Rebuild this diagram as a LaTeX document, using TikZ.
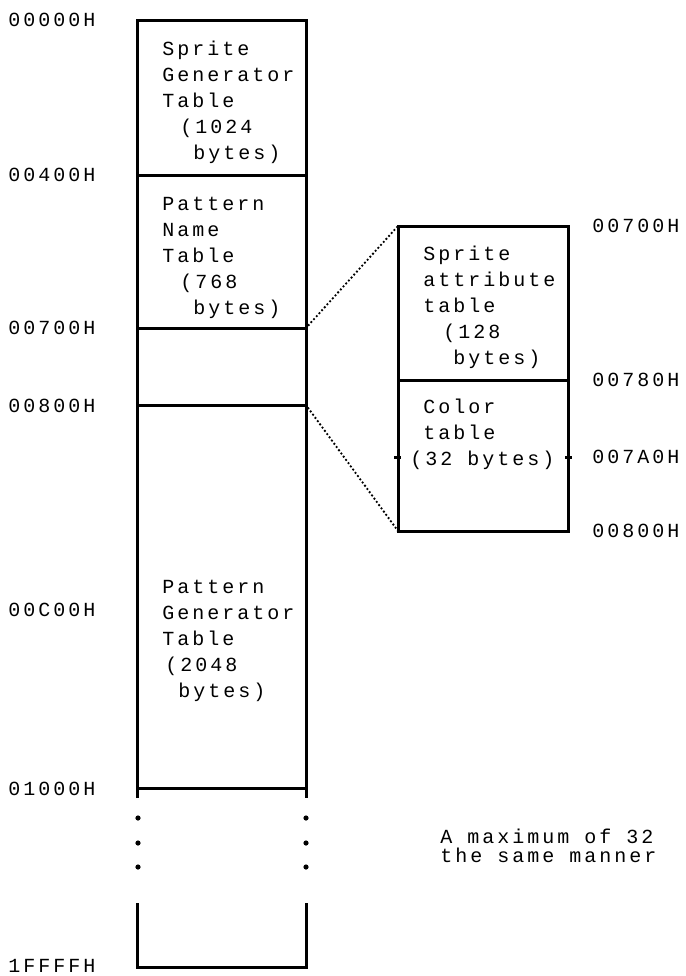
\documentclass[tikz,border=0pt]{standalone}
\usepackage{fontspec}
\setmonofont[LetterSpace=15]{Liberation Mono}
\usetikzlibrary{positioning}
\tikzset{
  cim/.style={anchor=west,inner sep=0pt,font=\ttfamily\fontsize{10}{11}\selectfont},
  sor/.style={anchor=base west,inner sep=0pt,font=\ttfamily\fontsize{10}{11}\selectfont},
  fal/.style={line width=1.5pt},
  pontsor/.style={line width=1.3pt,dash pattern=on 0pt off 2pt,line cap=round},
  potty/.style={circle,fill,inner sep=0pt,minimum size=2.6pt},
}

\begin{document}
\begin{tikzpicture}[x=0.5pt,y=-0.5pt]
  \useasboundingbox (0,0) rectangle (686,976);
  % VRAM oszlop
  \draw[fal] (137,798) -- (137,20) -- (306,20) -- (306,798);
  \foreach \y in {175,328,405,788}
    \draw[fal] (137,\y) -- (306,\y);
  \foreach \y [count=\i] in {818,843,867} {
    \node[potty] (bp\i) at (138,\y) {};
    \node[potty] (jp\i) at (306,\y) {};
  }
  \draw[fal] (137,903) -- (137,967) -- (306,967) -- (306,903);
  % kinagyitott resz
  \draw[fal] (398,226) rectangle (568,531);
  \draw[fal] (398,380) -- (568,380);
  \draw[fal] (394,457) -- (401,457) (565,457) -- (572,457);
  \coordinate (m700) at (306,328);
  \coordinate (m800) at (306,405);
  \coordinate (k700) at (398,226);
  \coordinate (k800) at (398,531);
  \draw[pontsor] (m700) -- (k700);
  \draw[pontsor] (m800) -- (k800);
  % cimek
  \foreach \y/\t in {20/00000H,175/00400H,328/00700H,406/00800H,610/00C00H,789/01000H,966/1FFFFH}
    \node[cim] (b\t) at (8,\y) {\t};
  \foreach \y/\t in {226/00700H,380/00780H,457/007A0H,531/00800H}
    \node[cim] (j\t) at (592,\y) {\t};
  % feliratok
  \foreach \x/\y/\t [count=\i] in {162/55/Sprite,162/81/Generator,162/107/Table,180/133/(1024,193/159/bytes),
      162/210/Pattern,162/236/Name,162/262/Table,180/288/(768,193/314/bytes),
      162/593/Pattern,162/619/Generator,162/645/Table,165/671/(2048,178/697/bytes),
      423/260/Sprite,423/286/attribute,423/312/table,443/338/(128,453/364/bytes),
      423/413/Color,423/439/table,410/465/(32 bytes)}
    \node[sor] (f\i) at (\x,\y) {\t};
  \node[sor] (megj1) at (440,843) {A maximum of 32};
  \node[sor] (megj2) at (440,862) {the same manner};
\end{tikzpicture}
\end{document}
